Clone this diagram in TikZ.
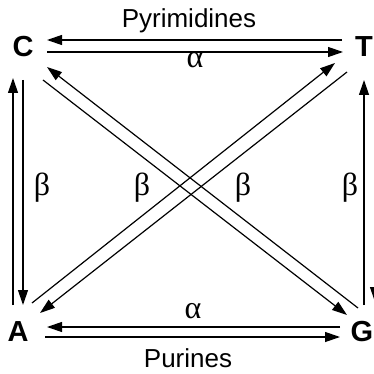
\documentclass[tikz,border=0pt]{standalone}
\usepackage{fontspec}
\setmainfont{Liberation Sans}
\newfontfamily\grk{Liberation Serif}
\usetikzlibrary{calc,arrows.meta}
\begin{document}
\begin{tikzpicture}[x=1pt,y=-1pt,
      base/.style={font=\fontsize{29}{29}\selectfont\bfseries,inner sep=0pt},
      lbl/.style={font=\fontsize{26}{26}\selectfont,anchor=base,inner sep=0pt},
      grl/.style={font=\fontsize{32}{32}\selectfont\grk,anchor=base,inner sep=0pt},
      arr/.style={-{Triangle[length=15pt,width=10pt]},line width=1.2pt}]
    \useasboundingbox (0,0) rectangle (373,374);
    \node[base](c) at (23,47) {C};
    \node[base](t) at (364,47) {T};
    \node[base](a) at (18,332) {A};
    \node[base](g) at (362,332) {G};
    \node[lbl](pyr) at (189,28) {Pyrimidines};
    \node[lbl](pur) at (188,367) {Purines};
    \node[grl](al1) at (195,68) {α};
    \node[grl](al2) at (193,318) {α};
    \node[grl](be1) at (42,195) {β};
    \node[grl](be2) at (142,195) {β};
    \node[grl](be3) at (243,195) {β};
    \node[grl](be4) at (350,195) {β};
    \draw[arr]($(t)+(-22,-7)$)--($(c)+(24,-7)$);
    \draw[arr]($(c)+(24,5)$)--($(t)+(-21,5)$);
    \draw[arr]($(g)+(-22,-5)$)--($(a)+(29,-5)$);
    \draw[arr]($(a)+(27,5)$)--($(g)+(-22,5)$);
    \draw[arr]($(a)+(-5,-27)$)--($(c)+(-10,31)$);
    \draw[arr]($(c)+(0,33)$)--($(a)+(5,-27)$);
    \draw[arr]($(g)+(2,-27)$)--($(t)+(0,33)$);
    \draw[arr]($(t)+(11,33)$)--($(g)+(13,-30)$);
    \draw[arr]($(g)+(-4,-24)$)--($(c)+(24,20)$);
    \draw[arr]($(c)+(20,33)$)--($(g)+(-15,-17)$);
    \draw[arr]($(a)+(14,-29)$)--($(t)+(-29,16)$);
    \draw[arr]($(t)+(-17,25)$)--($(a)+(22,-19)$);
  \end{tikzpicture}
\end{document}
